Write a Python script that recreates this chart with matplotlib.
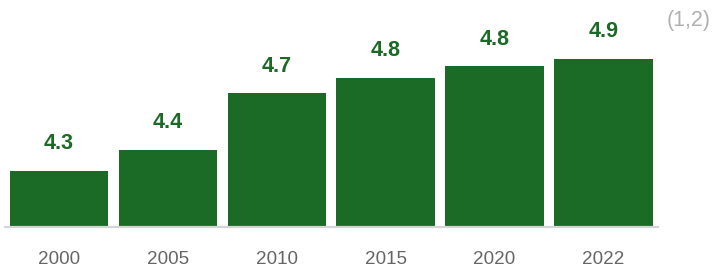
import matplotlib
matplotlib.use("Agg")
import matplotlib.pyplot as plt

plt.rcParams['font.family'] = ['Liberation Sans', 'DejaVu Sans']

years = ["2000", "2005", "2010", "2015", "2020", "2022"]
values = [4.30, 4.41, 4.70, 4.78, 4.84, 4.88]
value_labels = ["4.3", "4.4", "4.7", "4.8", "4.8", "4.9"]
note = "(1,2)"

bar_color = "#1b6a26"

fig = plt.figure(figsize=(7.13, 2.68), dpi=100)
ax = fig.add_axes([0.0066, 0.153, 0.9158, 0.81])

x = range(len(years))
bars = ax.bar(x, values, width=0.905, color=bar_color, bottom=0)
ax.set_xlim(-0.5, 5.5)
ax.set_ylim(4.01, 5.131)

for xi, v, lab in zip(x, values, value_labels):
    ax.annotate(lab, (xi, v), xytext=(0, 15.4), textcoords="offset points",
                ha="center", va="baseline", fontsize=15.5, fontweight="bold",
                color=bar_color)

ax.set_xticks(list(x))
ax.set_xticklabels(years, fontsize=13.6, color="#666666")
ax.tick_params(axis="x", length=0, pad=17)
ax.set_yticks([])
for side in ["top", "left", "right"]:
    ax.spines[side].set_visible(False)
ax.spines["bottom"].set_color("#d5d5d5")
ax.spines["bottom"].set_linewidth(1.6)

fig.text(0.966, 0.925, note, ha="center", va="center", fontsize=15.5,
         color="#b0b0b0")

fig.savefig("out.png", dpi=100)
